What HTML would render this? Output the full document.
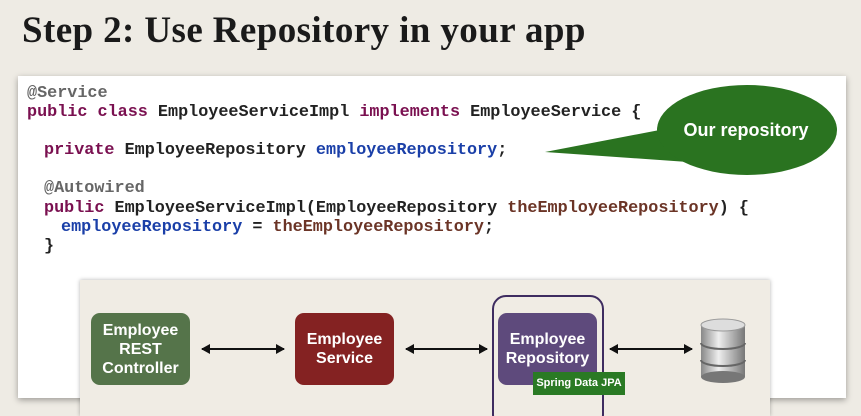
<!DOCTYPE html>
<html><head><meta charset="utf-8"><style>
html,body{margin:0;width:861px;height:416px;overflow:hidden}
body{background:#eeebe4;position:relative;font-family:"Liberation Sans",sans-serif}
.t{position:absolute;left:22px;top:9px;font:bold 37px "Liberation Serif",serif;color:#1a1a1a;letter-spacing:0.4px}
.card{position:absolute;left:18px;top:76px;width:828px;height:322px;background:#fff;box-shadow:0 2px 6px rgba(0,0,0,.35)}
.code{position:absolute;left:27px;font:bold 16.8px/19px "Liberation Mono",monospace;white-space:pre;color:#222}
.k{color:#7a1050}.a{color:#666}.f{color:#1a3fa8}.p{color:#6b3426}
.panel{position:absolute;left:80px;top:280px;width:690px;height:136px;background:#f0ece4;box-shadow:0 0 4px rgba(0,0,0,.3)}
.b{position:absolute;width:99px;height:72px;border-radius:9px;color:#fff;font-weight:bold;font-size:16px;line-height:19px;display:flex;align-items:center;justify-content:center;text-align:center}
</style></head><body>
<div class="t">Step 2: Use Repository in your app</div>
<div class="card"></div>
<div class="code" style="top:84px"><span class="a">@Service</span></div>
<div class="code" style="top:103px"><span class="k">public class</span> EmployeeServiceImpl <span class="k">implements</span> EmployeeService {</div>
<div class="code" style="top:141px;left:44px"><span class="k">private</span> EmployeeRepository <span class="f">employeeRepository</span>;</div>
<div class="code" style="top:179px;left:44px"><span class="a">@Autowired</span></div>
<div class="code" style="top:199px;left:44px"><span class="k">public</span> EmployeeServiceImpl(EmployeeRepository <span class="p">theEmployeeRepository</span>) {</div>
<div class="code" style="top:218px;left:61px"><span class="f">employeeRepository</span> = <span class="p">theEmployeeRepository</span>;</div>
<div class="code" style="top:237px;left:44px">}</div>
<svg style="position:absolute;left:0;top:0" width="861" height="416">
<polygon points="545,152 670,128 688,162" fill="#2a7320"/>
<ellipse cx="747" cy="130" rx="90" ry="45" fill="#2a7320"/>
<text x="746" y="136" fill="#fff" font-family="Liberation Sans" font-weight="bold" font-size="18" text-anchor="middle">Our repository</text>
</svg>
<div class="panel"></div>
<div class="b" style="left:91px;top:313px;background:#55744a">Employee<br>REST<br>Controller</div>
<div class="b" style="left:295px;top:313px;background:#842222">Employee<br>Service</div>
<div style="position:absolute;left:492px;top:295px;width:108px;height:130px;border:2px solid #3e2c60;border-radius:14px"></div>
<div class="b" style="left:498px;top:313px;background:#5e4a7c">Employee<br>Repository</div>
<div style="position:absolute;left:533px;top:372px;width:92px;height:23px;background:#2a7a24;color:#fff;font-size:11px;font-weight:bold;line-height:23px;text-align:center">Spring Data JPA</div>
<svg style="position:absolute;left:0;top:0" width="861" height="416">
<defs><marker id="m" markerUnits="userSpaceOnUse" markerWidth="9" markerHeight="10" refX="8" refY="5" orient="auto-start-reverse"><path d="M0,0 L9,5 L0,10 Z" fill="#111"/></marker>
<linearGradient id="g" x1="0" x2="1"><stop offset="0" stop-color="#888"/><stop offset=".4" stop-color="#eee"/><stop offset="1" stop-color="#777"/></linearGradient></defs>
<line x1="202" y1="349" x2="284" y2="349" stroke="#111" stroke-width="2" marker-start="url(#m)" marker-end="url(#m)"/>
<line x1="406" y1="349" x2="487" y2="349" stroke="#111" stroke-width="2" marker-start="url(#m)" marker-end="url(#m)"/>
<line x1="610" y1="349" x2="692" y2="349" stroke="#111" stroke-width="2" marker-start="url(#m)" marker-end="url(#m)"/>
<rect x="701" y="325" width="44" height="52" fill="url(#g)"/>
<ellipse cx="723" cy="377" rx="22" ry="6" fill="#777"/>
<ellipse cx="723" cy="325" rx="22" ry="6" fill="#ddd" stroke="#999"/>
<path d="M701,343 A22,6 0 0 0 745,343 M701,360 A22,6 0 0 0 745,360" stroke="#666" fill="none" stroke-width="2"/>
</svg>
</body></html>
